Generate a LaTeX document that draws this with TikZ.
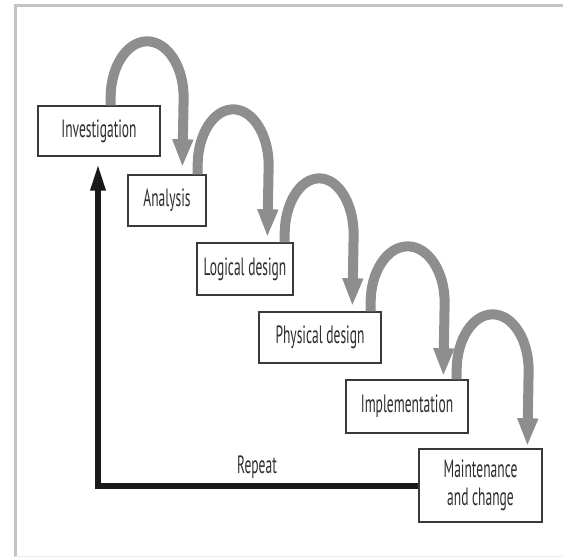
\documentclass[tikz,border=0pt]{standalone}
\usepackage{fontspec}
\setmainfont{PT Sans}[FakeStretch=0.54]
\usetikzlibrary{arrows.meta,calc}
\definecolor{framegray}{HTML}{C4C4C4}
\definecolor{arrowgray}{HTML}{8E8E8E}
\definecolor{boxline}{HTML}{3A3A3A}
\definecolor{txt}{HTML}{2E2E2E}
\tikzset{
  stage/.style={draw=boxline, line width=1.3pt, fill=white, inner sep=0pt,
    text=txt, font=\fontsize{25}{28}\selectfont, align=center},
  loop/.style={draw=arrowgray, line width=10pt,
    -{Triangle[width=19pt,length=28pt]}},
  repeatline/.style={draw=black!90, line width=6pt,
    -{Triangle[width=14pt,length=27pt]}}
}
\begin{document}
\begin{tikzpicture}[x=1pt,y=1pt]
\useasboundingbox (0,0) rectangle (563,559);
% frame
\draw[framegray, line width=3pt] (563,553) -- (15,553) -- (15,2);
\draw[black!8, line width=1pt] (15,2) -- (563,2);
% stages
\node[stage, minimum width=122pt, minimum height=50pt] (inv) at (99,428) {Investigation};
\node[stage, minimum width=78pt, minimum height=51pt] (ana) at (167,358.5) {Analysis};
\node[stage, minimum width=96pt, minimum height=52pt] (log) at (245,290) {Logical design};
\node[stage, minimum width=122pt, minimum height=51pt] (phy) at (320,221.5) {Physical design};
\node[stage, minimum width=122pt, minimum height=53pt] (imp) at (407,152.5) {Implementation};
\node[stage, minimum width=123pt, minimum height=73pt] (mai) at (480.5,73.5) {Maintenance\\and change};
% loop arrows
\coordinate (s1) at ([xshift=-50pt]inv.north east);
\coordinate (e1) at ([xshift=55pt,yshift=7pt]ana.north west);
\draw[loop] (s1) -- ++(0,8) arc[start angle=180,end angle=0,x radius=36.5,y radius=56] -- (e1);
\coordinate (s2) at ([xshift=-9pt]ana.north east);
\coordinate (e2) at ([xshift=71pt,yshift=5pt]log.north west);
\draw[loop] (s2) -- ++(0,9) arc[start angle=180,end angle=0,x radius=35.5,y radius=56] -- (e2);
\coordinate (s3) at ([xshift=-9pt]log.north east);
\coordinate (e3) at ([xshift=94pt,yshift=5pt]phy.north west);
\draw[loop] (s3) -- ++(0,8) arc[start angle=180,end angle=0,x radius=34.5,y radius=56] -- (e3);
\coordinate (s4) at ([xshift=-11pt]phy.north east);
\coordinate (e4) at ([xshift=98pt,yshift=3pt]imp.north west);
\draw[loop] (s4) -- ++(0,9) arc[start angle=180,end angle=0,x radius=37,y radius=56] -- (e4);
\coordinate (s5) at ([xshift=-12pt]imp.north east);
\coordinate (e5) at ([xshift=109pt,yshift=2pt]mai.north west);
\draw[loop] (s5) -- ++(0,9) arc[start angle=180,end angle=0,x radius=36,y radius=56] -- (e5);
% repeat
\coordinate (corner) at (98,73);
\draw[repeatline] (mai.west |- corner) -- (corner) -- ([yshift=-7pt]inv.south -| corner);
\node[text=txt, font=\fontsize{25}{28}\selectfont, inner sep=0pt] (rep) at (257,92) {Repeat};
\end{tikzpicture}
\end{document}
